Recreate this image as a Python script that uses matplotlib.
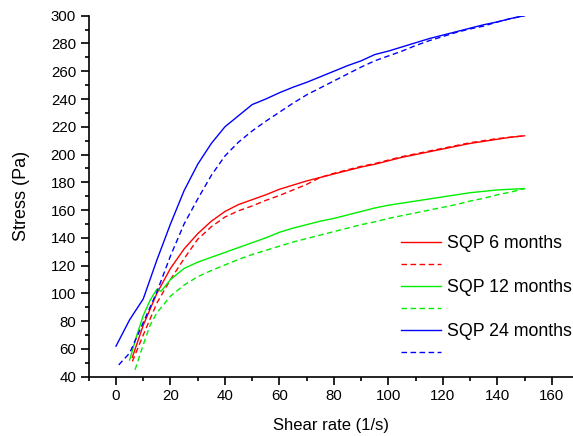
import matplotlib.pyplot as plt
from matplotlib.ticker import MultipleLocator

plt.rcParams['font.family'] = ['Liberation Sans', 'DejaVu Sans']

# shear rate (1/s) and stress (Pa); solid = measured, dashed = fitted
x6 = [6, 10, 15, 20, 25, 30, 35, 40, 45, 50, 55, 60, 65, 70, 75, 80, 85, 90, 95, 100,
      105, 110, 115, 120, 125, 130, 135, 140, 145, 150]
y6 = [54, 77, 100, 118, 132, 143, 152, 159, 164, 167.5, 171, 175, 178, 181, 183.5, 186,
      188.5, 191, 193, 195.5, 198, 200, 202, 204, 206, 208, 209.5, 211, 212.5, 213.5]
y6_fit = [51, 70, 93, 110, 125, 139, 148, 155, 159.5, 163, 167, 170.5, 174.5, 178.5, 183.5,
          186.5, 189, 191.5, 193.5, 196, 198.5, 200.5, 202.5, 204.5, 206.5, 208.5, 210,
          211.5, 212.5, 213.5]

x12 = [5, 7.5, 10, 12.5, 15, 16.5, 18, 20, 25, 30, 35, 40, 45, 50, 55, 60, 65, 70, 75, 80,
       85, 90, 95, 100, 105, 110, 115, 120, 125, 130, 135, 140, 145, 150]
y12 = [52, 69, 84, 95, 103, 101.5, 105, 110, 118, 122.5, 126, 129.5, 133, 136.5, 140, 144,
       147, 149.5, 152, 154, 156.5, 159, 161.5, 163.5, 165, 166.5, 168, 169.5, 171, 172.5,
       173.5, 174.5, 175, 175.5]
x12_fit = [7, 10, 12.5, 15, 20, 25, 30, 35, 40, 45, 50, 55, 60, 65, 70, 75, 80, 85, 90, 95,
           100, 105, 110, 115, 120, 125, 130, 135, 140, 145, 150]
y12_fit = [45, 63, 77, 86, 98, 106, 112, 116.5, 120.5, 124.5, 128, 131, 134, 137, 139.5, 142,
           144.5, 147, 149.5, 151.5, 154, 156, 158, 160, 162, 164, 166.5, 168.5, 171, 173,
           175.5]

x24 = [0, 5, 10, 15, 20, 25, 30, 35, 40, 45, 50, 55, 60, 65, 70, 75, 80, 85, 90, 95, 100,
       105, 110, 115, 120, 125, 130, 135, 140, 145, 150]
y24 = [62, 81, 96, 124, 150, 174, 193, 208, 220, 228, 236, 240, 244.5, 248.5, 252, 256, 260,
       264, 267.5, 272, 274.5, 277.5, 280.5, 283.5, 286, 288.5, 291, 293.5, 295.5, 298, 300]
x24_fit = [1, 5, 10, 15, 20, 25, 30, 35, 40, 45, 50, 55, 60, 65, 70, 75, 80, 85, 90, 95, 100,
           105, 110, 115, 120, 125, 130, 135, 140, 145, 150]
y24_fit = [48.5, 57, 79, 101, 127, 150, 168, 185, 199, 209, 217, 224, 230.5, 237, 243, 248,
           253, 258, 263, 267.5, 271, 274.5, 278.5, 282, 285, 288, 290.5, 292.5, 295.5, 298,
           300]

labels = ['SQP 6 months', ' ', 'SQP 12 months', ' ', 'SQP 24 months', ' ']

fig = plt.figure(figsize=(5.73, 4.36), dpi=100)
ax = fig.add_axes([88.5 / 573, 59.3 / 436, (573 - 88.5) / 573, 361 / 436])

dash = (4, 2.5)
lines = []
lines += ax.plot(x6, y6, color='#ff0000', lw=1.0)
lines += ax.plot(x6, y6_fit, color='#ff0000', lw=1.0, dashes=dash)
lines += ax.plot(x12, y12, color='#00ee00', lw=1.0)
lines += ax.plot(x12_fit, y12_fit, color='#00ee00', lw=1.0, dashes=dash)
lines += ax.plot(x24, y24, color='#0000ff', lw=1.0)
lines += ax.plot(x24_fit, y24_fit, color='#0000ff', lw=1.0, dashes=dash)

ax.set_xlim(-10.1, 167.8)
ax.set_ylim(40, 300)
ax.xaxis.set_major_locator(MultipleLocator(20))
ax.xaxis.set_minor_locator(MultipleLocator(10))
ax.yaxis.set_major_locator(MultipleLocator(20))
ax.yaxis.set_minor_locator(MultipleLocator(10))
ax.set_xticks(range(0, 161, 20))

for s in ['top', 'right']:
    ax.spines[s].set_visible(False)
for s in ['left', 'bottom']:
    ax.spines[s].set_linewidth(1.2)
ax.tick_params(which='major', direction='out', length=6, width=1.2, labelsize=10.8, pad=3)
ax.tick_params(which='minor', direction='out', length=3, width=1.2)

ax.set_xlabel('Shear rate (1/s)', fontsize=12, labelpad=11)
ax.set_ylabel('Stress (Pa)', fontsize=13, labelpad=15)

ax.legend(lines, labels, loc='upper left', bbox_to_anchor=(401 / 573, 1 - 235 / 436),
          bbox_transform=fig.transFigure, frameon=False, fontsize=12.8,
          handlelength=2.25, handletextpad=0.35, labelspacing=0.28,
          borderpad=0, borderaxespad=0)

fig.savefig('out.png', dpi=100)
